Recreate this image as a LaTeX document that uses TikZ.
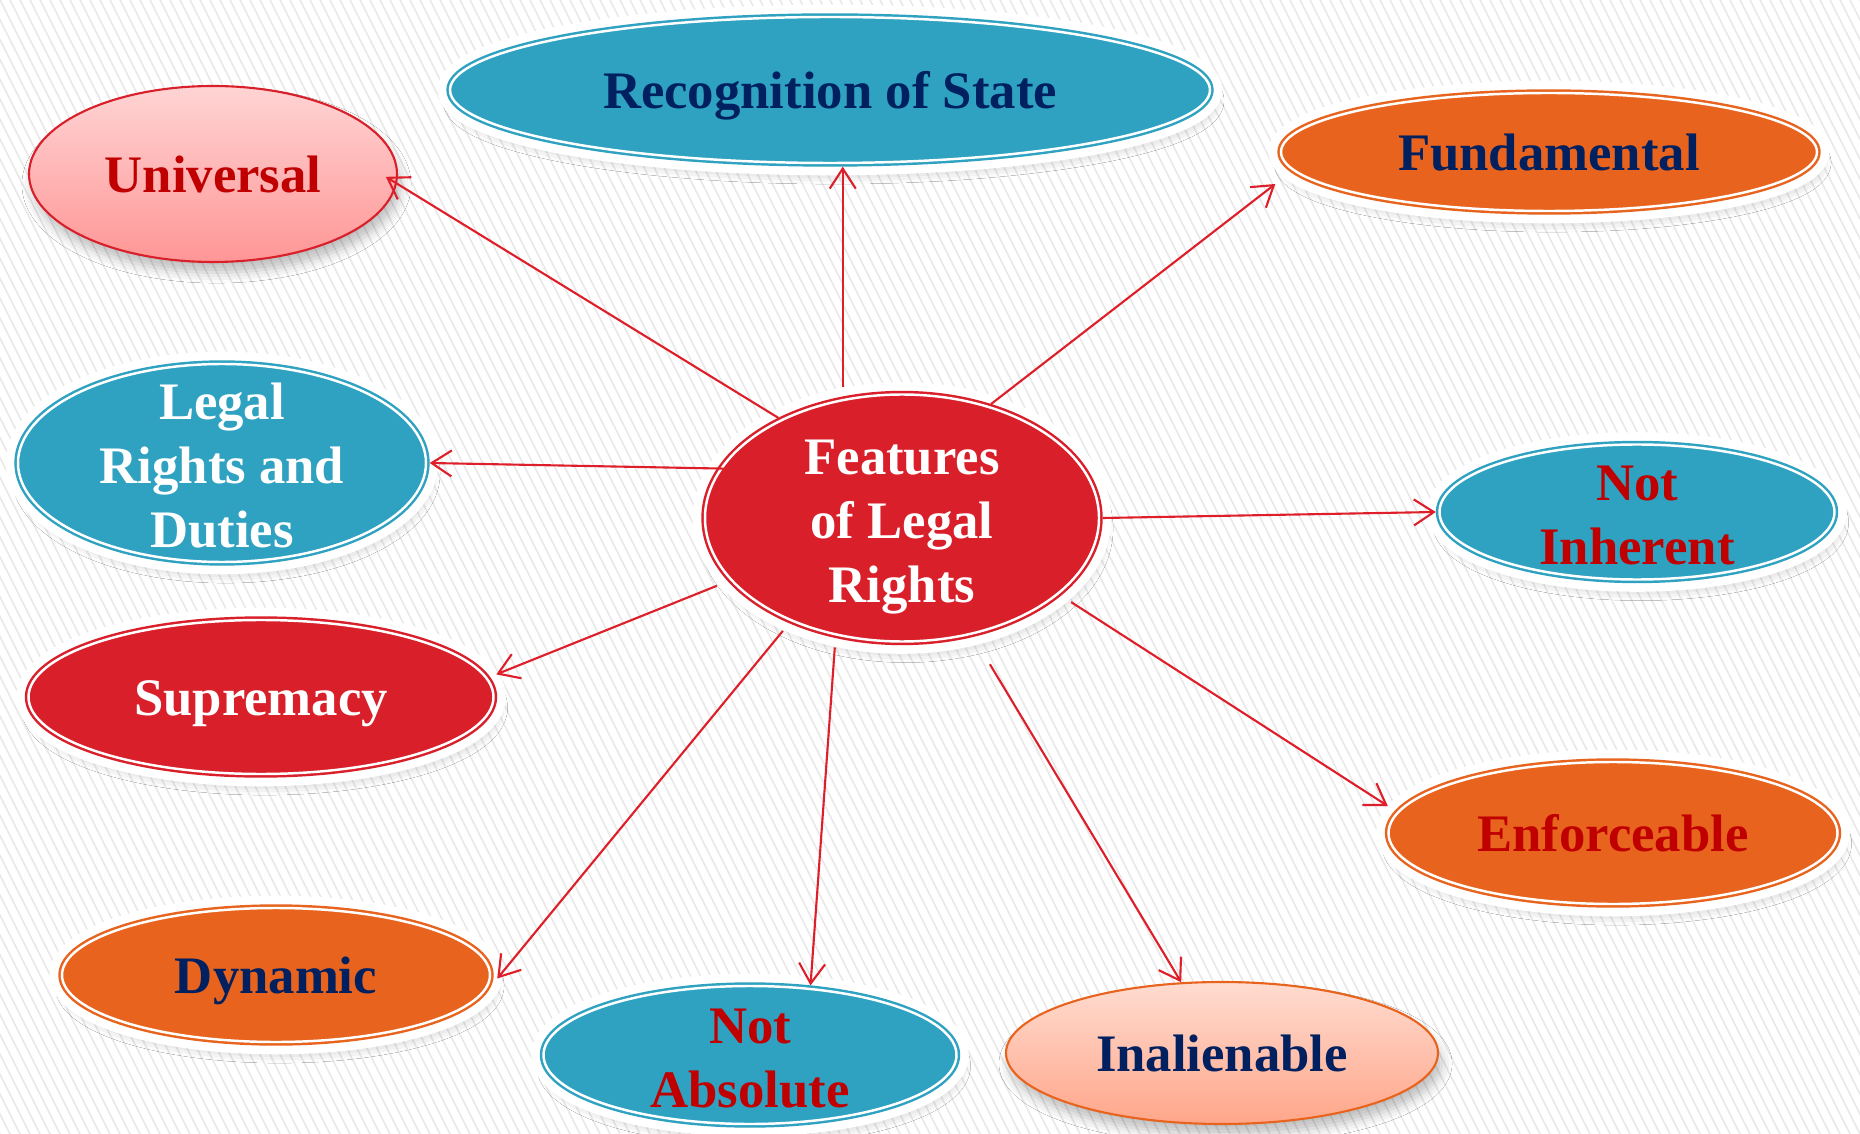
\documentclass[tikz,border=0pt]{standalone}
\usepackage{fontspec}
\setmainfont{Liberation Serif}
\usetikzlibrary{arrows.meta, shapes.geometric, shadows.blur}

\definecolor{seablue}{RGB}{46,162,192}
\definecolor{rustorange}{RGB}{232,100,30}
\definecolor{featred}{RGB}{217,31,42}
\definecolor{navytext}{RGB}{0,32,96}
\definecolor{winetext}{RGB}{192,0,0}
\definecolor{linkred}{RGB}{222,30,40}
\definecolor{pinktop}{RGB}{255,212,212}
\definecolor{pinkbot}{RGB}{255,150,150}
\definecolor{peachtop}{RGB}{255,220,208}
\definecolor{peachbot}{RGB}{255,166,138}
\definecolor{stripegray}{RGB}{232,232,232}

\newcommand{\toprule}{\rule{0pt}{14.8pt}}

\begin{document}
\begin{tikzpicture}[x=0.1mm, y=-0.1mm,
    bubble/.style={ellipse, inner xsep=0pt, inner ysep=-3mm, align=center,
        font=\bfseries\fontsize{15}{18.2}\selectfont,
        execute at begin node={\rule{0pt}{13.8pt}},
        execute at end node={\rule[-3.3pt]{0pt}{3.3pt}}},
    ringed/.style={bubble, fill=#1, draw=#1, line width=2.1pt,
        blur shadow={shadow xshift=1pt, shadow yshift=-3pt, shadow opacity=25, shadow blur radius=3pt},
        preaction={draw=white, line width=7pt},
        postaction={draw=white, line width=0.7pt}},
    soft/.style n args={3}{bubble, draw=#1, line width=0.6pt, top color=#2, bottom color=#3,
        blur shadow={shadow xshift=1pt, shadow yshift=-3pt, shadow opacity=25, shadow blur radius=3pt}},
    link/.style={-{Straight Barb[length=2mm, width=2.6mm]}, draw=linkred, line width=0.6pt}]
    \useasboundingbox (0,0) rectangle (1860,1134);
    \fill[white] (0,0) rectangle (1860,1134);
    \begin{scope}
        \clip (0,0) rectangle (1860,1134);
        \foreach \s in {-570,-560,...,1860}
            \draw[stripegray, line width=0.45pt] (\s,0) -- ++(570,1134);
    \end{scope}

    \node[ringed=featred, text=white, minimum width=39.4mm, minimum height=24.7mm] (feat) at (902,518) {\toprule Features\\of Legal\\Rights};
    \node[ringed=seablue, text=navytext, minimum width=76mm, minimum height=14.6mm] (recog) at (830,90) {Recognition of State};
    \node[soft={featred}{pinktop}{pinkbot}, text=winetext, minimum width=36.8mm, minimum height=17.6mm] (univ) at (213,174) {Universal};
    \node[ringed=rustorange, text=navytext, minimum width=53.6mm, minimum height=11.8mm] (fund) at (1549,152) {Fundamental};
    \node[ringed=seablue, text=white, minimum width=40.8mm, minimum height=19.8mm] (legal) at (222,463) {\toprule Legal\\Rights and\\Duties};
    \node[ringed=seablue, text=winetext, minimum width=39.5mm, minimum height=13.5mm] (notinh) at (1637,512) {\toprule Not\\Inherent};
    \node[ringed=featred, text=white, minimum width=46.5mm, minimum height=15.4mm] (suprem) at (261,697) {Supremacy};
    \node[ringed=rustorange, text=winetext, minimum width=44.9mm, minimum height=14.2mm] (enforce) at (1613,833) {Enforceable};
    \node[ringed=rustorange, text=navytext, minimum width=42.8mm, minimum height=13.4mm] (dyn) at (276,975) {Dynamic};
    \node[ringed=seablue, text=winetext, minimum width=41.3mm, minimum height=13.8mm] (notabs) at (750,1055) {\toprule Not\\Absolute};
    \node[soft={rustorange}{peachtop}{peachbot}, text=navytext, minimum width=43.2mm, minimum height=14.2mm] (inal) at (1222,1053) {Inalienable};

    \draw[link, shorten <=0.9mm] (feat.116) -- (feat.116 |- recog.south);
    \draw[link, shorten >=-1.3mm] (feat.141) -- (univ.-3);
    \draw[link] (feat.52) -- ([shift={(-2,32)}]fund.west);
    \draw[link, shorten <=-0.9mm] (feat.165) -- (legal.east);
    \draw[link] (feat.east) -- (notinh.west);
    \draw[link, shorten <=1.2mm, shorten >=0.7mm] (feat.200) -- (suprem.5);
    \draw[link, shorten <=1mm, shorten >=1mm] (feat.223) -- (dyn.-3);
    \draw[link, shorten <=0.95mm] (feat.241) -- (notabs.49);
    \draw[link, shorten <=3.2mm] (feat.301) -- (inal.120);
    \draw[link, shorten <=1.2mm] (feat.334) -- ([shift={(3,-27)}]enforce.west);
\end{tikzpicture}
\end{document}
